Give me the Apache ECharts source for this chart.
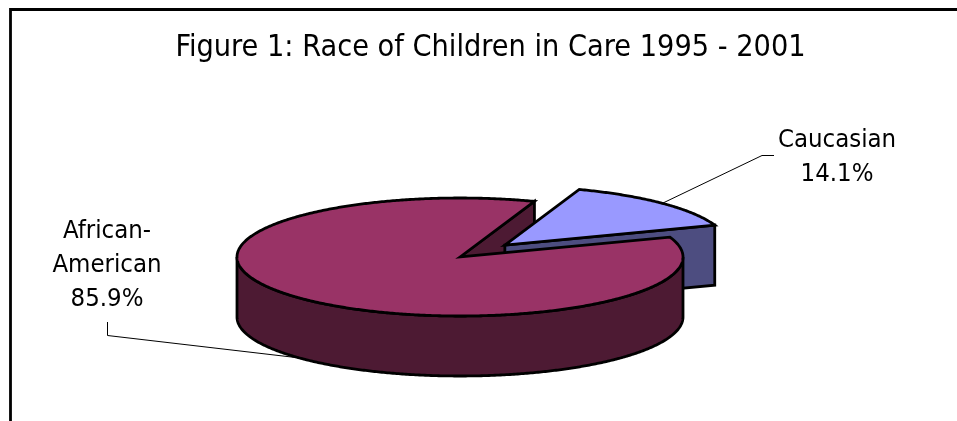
<!DOCTYPE html>
<html>
<head>
<meta charset="utf-8">
<style>html,body{margin:0;padding:0;background:#fff}#c{width:957px;height:421px}</style>
<script src="https://cdn.jsdelivr.net/npm/echarts@6/dist/echarts.min.js"></script>
</head>
<body>
<div id="c"></div>
<script>
const titleText = 'Figure 1: Race of Children in Care 1995 - 2001';
const categories = ['African-\nAmerican', 'Caucasian'];
const values = [85.9, 14.1];
const topColors = ['#993366', '#9999ff'];
const wallColors = ['#4d1a33', '#4d4d80'];
const explode = [0, 0.285];

const FONT = '"DejaVu Sans Condensed","DejaVu Sans",sans-serif';
const PIE = {cx: 460, cy: 257, rx: 223, ry: 59, depth: 60, startDeg: 70.5};
const LABELS = [
  {x: 107, y: 265.5, leader: [[107.5, 322], [107.5, 335.5], [300, 358]]},
  {x: 837, y: 157.5, leader: [[663, 203], [762, 155.5], [774, 155.5]]}
];
const total = values.reduce((a, b) => a + b, 0);

function renderSlice(params, api) {
  const i = params.dataIndex;
  let before = 0;
  for (let k = 0; k < i; k++) before += values[k];
  const a1 = PIE.startDeg + before / total * 360;
  const a2 = a1 + api.value(0) / total * 360;
  const mid = (a1 + a2) / 2 * Math.PI / 180;
  const cx = PIE.cx + explode[i] * PIE.rx * Math.cos(mid);
  const cy = PIE.cy - explode[i] * PIE.ry * Math.sin(mid);
  const pt = (deg, d) => [cx + PIE.rx * Math.cos(deg * Math.PI / 180),
                          cy - PIE.ry * Math.sin(deg * Math.PI / 180) + (d || 0)];
  const arc = (from, to, d) => {
    const out = [], n = Math.max(2, Math.ceil(Math.abs(to - from) * 2));
    for (let k = 0; k <= n; k++) out.push(pt(from + (to - from) * k / n, d));
    return out;
  };
  const lineStyle = fill => ({fill, stroke: '#000', lineWidth: 2.8, lineJoin: 'miter', miterLimit: 10});
  const exploded = explode[i] > 0;
  const children = [];
  // cut face at the slice's start edge (faces the viewer when cos > 0)
  if (Math.cos(a1 * Math.PI / 180) > 0) {
    const p = pt(a1), c = [cx, cy];
    children.push({type: 'polygon', z2: exploded ? 2 : 1,
      shape: {points: [c, p, [p[0], p[1] + PIE.depth], [c[0], c[1] + PIE.depth]]},
      style: lineStyle(wallColors[i])});
  }
  // outer rim: the part of the arc on the front half
  const from = Math.max(a1, 180), to = Math.min(a2, 360);
  if (to > from) {
    children.push({type: 'polygon', z2: 5,
      shape: {points: arc(from, to, 0).concat(arc(to, from, PIE.depth))},
      style: lineStyle(wallColors[i])});
  }
  // top face
  children.push({type: 'polygon', z2: exploded ? 3 : 6,
    shape: {points: [[cx, cy]].concat(arc(a1, a2, 0))},
    style: lineStyle(topColors[i])});
  // leader and label
  const L = LABELS[i];
  children.push({type: 'polyline', z2: 4,
    shape: {points: L.leader},
    style: {fill: null, stroke: '#000', lineWidth: 1}});
  children.push({type: 'text', z2: 8, x: L.x, y: L.y,
    style: {text: categories[i] + '\n' + api.value(0).toFixed(1) + '%',
      font: '25.5px ' + FONT, lineHeight: 34, fill: '#000', align: 'center', verticalAlign: 'middle'}});
  return {type: 'group', children};
}

const chart = echarts.init(document.getElementById('c'), null, {renderer: 'canvas'});
chart.setOption({
  animation: false,
  backgroundColor: '#fff',
  title: {text: titleText, left: 485.5, top: 43, textAlign: 'center', textVerticalAlign: 'middle',
    textStyle: {fontFamily: FONT, fontSize: 30.3, fontWeight: 'normal', color: '#000'}},
  graphic: [{type: 'polyline', silent: true,
    shape: {points: [[10.5, 425], [10.5, 9.5], [960, 9.5]]},
    style: {fill: null, stroke: '#000', lineWidth: 2.8}}],
  series: [{
    type: 'custom', coordinateSystem: 'none', silent: true,
    renderItem: renderSlice,
    data: values.map(v => [v])
  }]
});
</script>
</body>
</html>
